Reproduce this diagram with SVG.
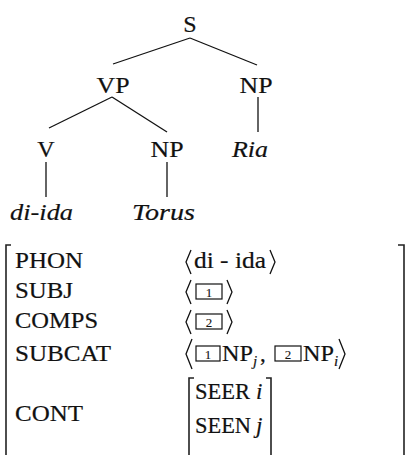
<svg xmlns="http://www.w3.org/2000/svg" width="407" height="455" viewBox="0 0 407 455">
<style>
text{font-family:'Liberation Serif','DejaVu Serif','Noto Serif',Tinos,'Times New Roman',Times,FreeSerif,'Nimbus Roman','Nimbus Roman No9 L',serif;font-size:23px;fill:#111;stroke:#111;stroke-width:0.2}
.t{font-size:24px}
.it{font-style:italic}
.sub{font-size:15px;font-style:italic}
.bx{font-size:13px;stroke-width:0.1}
.ln{stroke:#111;stroke-width:1.3;fill:none}
.br{stroke:#222;stroke-width:1.6;fill:none}
.box{stroke:#111;stroke-width:1.2;fill:none}
</style>
<rect width="407" height="455" fill="#fff"/>
<g id="connectors" class="ln">
<line x1="190" y1="38" x2="113" y2="64"/>
<line x1="190" y1="38" x2="257" y2="65"/>
<line x1="112" y1="97" x2="49" y2="128"/>
<line x1="112" y1="97" x2="167" y2="132"/>
<line x1="258" y1="97" x2="258" y2="132"/>
<line x1="46" y1="162" x2="46" y2="197"/>
<line x1="167" y1="162" x2="167" y2="197"/>
</g>
<g id="S"><text class="t" x="190" y="32" text-anchor="middle">S</text></g>
<g id="VP"><text class="t" x="113" y="93" text-anchor="middle" textLength="33" lengthAdjust="spacingAndGlyphs">VP</text></g>
<g id="NP1"><text class="t" x="256" y="93" text-anchor="middle" textLength="33" lengthAdjust="spacingAndGlyphs">NP</text></g>
<g id="V"><text class="t" x="46" y="157" text-anchor="middle">V</text></g>
<g id="NP2"><text class="t" x="167" y="157" text-anchor="middle" textLength="33" lengthAdjust="spacingAndGlyphs">NP</text></g>
<g id="Ria"><text class="t it" x="232" y="157" textLength="36" lengthAdjust="spacingAndGlyphs">Ria</text></g>
<g id="diida"><text class="t it" x="10" y="220" textLength="63" lengthAdjust="spacingAndGlyphs">di-ida</text></g>
<g id="Torus"><text class="t it" x="132" y="220" textLength="63" lengthAdjust="spacingAndGlyphs">Torus</text></g>
<g id="avm">
<path class="br" d="M11,245 H6 V455"/>
<path class="br" d="M398,245 H404 V455"/>
<text x="15" y="268" textLength="68" lengthAdjust="spacingAndGlyphs">PHON</text>
<text x="15" y="298" textLength="58" lengthAdjust="spacingAndGlyphs">SUBJ</text>
<text x="15" y="328" textLength="83" lengthAdjust="spacingAndGlyphs">COMPS</text>
<text x="15" y="361" textLength="96" lengthAdjust="spacingAndGlyphs">SUBCAT</text>
<text x="15" y="421" textLength="68" lengthAdjust="spacingAndGlyphs">CONT</text>
<path class="ln" d="M191,250 L186,262 L191,274"/>
<text x="194" y="268" textLength="72" lengthAdjust="spacingAndGlyphs">di - ida</text>
<path class="ln" d="M270,250 L275,262 L270,274"/>
<path class="ln" d="M191,280 L186,292 L191,304"/>
<rect class="box" x="196" y="284" width="26" height="15"/>
<text x="209" y="297" class="bx" text-anchor="middle">1</text>
<path class="ln" d="M227,280 L232,292 L227,304"/>
<path class="ln" d="M191,310 L186,322 L191,334"/>
<rect class="box" x="196" y="314" width="26" height="15"/>
<text x="209" y="327" class="bx" text-anchor="middle">2</text>
<path class="ln" d="M227,310 L232,322 L227,334"/>
<path class="ln" d="M192,339 L186,354 L192,369"/>
<rect class="box" x="196" y="346" width="24" height="15"/>
<text x="208" y="359" class="bx" text-anchor="middle">1</text>
<text x="222" y="361" textLength="31" lengthAdjust="spacingAndGlyphs">NP</text>
<text x="253" y="366" class="sub">j</text>
<text x="260" y="361">,</text>
<rect class="box" x="275" y="346" width="26" height="15"/>
<text x="288" y="359" class="bx" text-anchor="middle">2</text>
<text x="303" y="361" textLength="31" lengthAdjust="spacingAndGlyphs">NP</text>
<text x="334" y="366" class="sub">i</text>
<path class="ln" d="M339,339 L345,354 L339,369"/>
<path class="br" d="M194,378 H189 V455"/>
<path class="br" d="M266,378 H271 V455"/>
<text x="195" y="399" textLength="55" lengthAdjust="spacingAndGlyphs">SEER</text>
<text x="256" y="399" class="it">i</text>
<text x="195" y="433" textLength="56" lengthAdjust="spacingAndGlyphs">SEEN</text>
<text x="256" y="433" class="it">j</text>
</g>
</svg>
